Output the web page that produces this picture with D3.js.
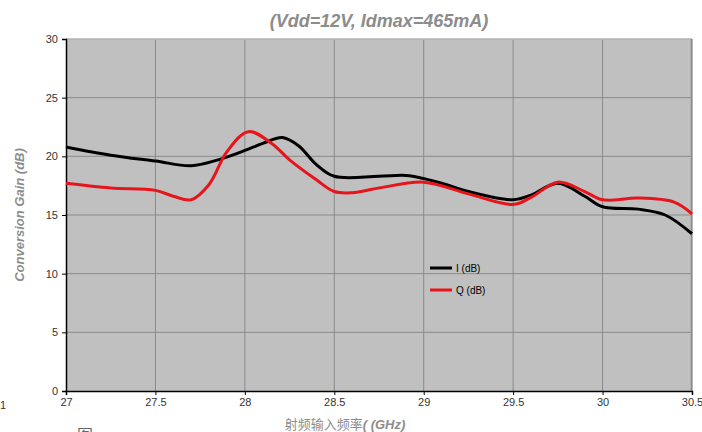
<!DOCTYPE html>
<html>
<head>
<meta charset="utf-8">
<script src="https://cdn.jsdelivr.net/npm/d3@7"></script>
<style>
  html, body { margin: 0; padding: 0; background: #fff; }
  svg { display: block; font-family: "Liberation Sans", Arial, sans-serif; }
</style>
</head>
<body>
<svg id="chart" width="702" height="432"></svg>
<script>
(function () {
  'use strict';

  // frequency (GHz) and gain (dB)
  var freqI = [27.0, 27.25, 27.5, 27.7, 27.85, 28.0, 28.1, 28.21, 28.3, 28.4, 28.5, 28.75, 28.92, 29.1, 29.25, 29.5, 29.6, 29.75, 29.9, 30.0, 30.2, 30.35, 30.5];
  var gainI = [20.8, 20.1, 19.6, 19.2, 19.7, 20.5, 21.1, 21.6, 20.9, 19.3, 18.3, 18.3, 18.35, 17.7, 17.0, 16.3, 16.7, 17.7, 16.6, 15.7, 15.5, 15.0, 13.4];

  var freqQ = [27.0, 27.25, 27.5, 27.6, 27.7, 27.8, 27.9, 28.02, 28.15, 28.25, 28.4, 28.5, 28.6, 28.75, 29.0, 29.25, 29.5, 29.6, 29.75, 29.9, 30.0, 30.2, 30.4, 30.5];
  var gainQ = [17.7, 17.3, 17.1, 16.6, 16.3, 17.6, 20.4, 22.1, 21.1, 19.7, 18.0, 17.0, 16.9, 17.3, 17.8, 16.8, 15.9, 16.5, 17.8, 17.0, 16.3, 16.45, 16.1, 15.1];

  var xTicks = [27, 27.5, 28, 28.5, 29, 29.5, 30, 30.5];
  var yTicks = [0, 5, 10, 15, 20, 25, 30];
  var seriesNames = ['I (dB)', 'Q (dB)'];
  var seriesColors = ['#000000', '#e8141b'];

  var svg = d3.select('#chart');
  var left = 66, right = 692, top = 39, bottom = 391;

  var x = d3.scaleLinear().domain([27, 30.5]).range([left, right]);
  var y = d3.scaleLinear().domain([0, 30]).range([bottom, top]);

  // plot area
  svg.append('rect')
    .attr('x', left).attr('y', top)
    .attr('width', right - left).attr('height', bottom - top)
    .attr('fill', '#c0c0c0');

  // grid
  svg.append('g').selectAll('line.v')
    .data(xTicks.slice(1))
    .enter().append('line')
    .attr('x1', function (d) { return x(d); }).attr('x2', function (d) { return x(d); })
    .attr('y1', top).attr('y2', bottom)
    .attr('stroke', '#8a8a8a').attr('stroke-width', 1);

  svg.append('g').selectAll('line.h')
    .data(yTicks.slice(1))
    .enter().append('line')
    .attr('x1', left).attr('x2', right)
    .attr('y1', function (d) { return y(d); }).attr('y2', function (d) { return y(d); })
    .attr('stroke', '#8a8a8a').attr('stroke-width', 1);

  svg.append('line')
    .attr('x1', left).attr('x2', right).attr('y1', top + 0.5).attr('y2', top + 0.5)
    .attr('stroke', '#b4b4b4');
  svg.append('line')
    .attr('x1', right - 0.5).attr('x2', right - 0.5).attr('y1', top).attr('y2', bottom)
    .attr('stroke', '#8a8a8a').attr('stroke-width', 1.5);

  // axes
  var xAxis = d3.axisBottom(x).tickValues(xTicks).tickSize(4).tickPadding(3)
    .tickFormat(function (d) { return String(d); });
  var yAxis = d3.axisLeft(y).tickValues(yTicks).tickSize(4).tickPadding(4);

  var gx = svg.append('g').attr('transform', 'translate(0,' + bottom + ')').call(xAxis);
  var gy = svg.append('g').attr('transform', 'translate(' + left + ',0)').call(yAxis);

  [gx, gy].forEach(function (g) {
    g.select('.domain').attr('stroke', '#000').attr('stroke-width', 1.5);
    g.selectAll('.tick line').attr('stroke', '#000');
    g.selectAll('.tick text')
      .attr('fill', '#333')
      .attr('font-size', '11px')
      .attr('font-family', '"Liberation Sans Narrow", "Liberation Sans", Arial, sans-serif');
  });

  // series
  var line = d3.line()
    .x(function (d) { return x(d[0]); })
    .y(function (d) { return y(d[1]); })
    .curve(d3.curveCatmullRom.alpha(0.5));

  var dataI = freqI.map(function (f, i) { return [f, gainI[i]]; });
  var dataQ = freqQ.map(function (f, i) { return [f, gainQ[i]]; });

  svg.append('path').datum(dataI)
    .attr('d', line).attr('fill', 'none')
    .attr('stroke', seriesColors[0]).attr('stroke-width', 3);
  svg.append('path').datum(dataQ)
    .attr('d', line).attr('fill', 'none')
    .attr('stroke', seriesColors[1]).attr('stroke-width', 3);

  // legend
  var legend = svg.append('g').attr('transform', 'translate(430,268)');
  seriesNames.forEach(function (name, i) {
    var row = legend.append('g').attr('transform', 'translate(0,' + (i * 22) + ')');
    row.append('line')
      .attr('x1', 0).attr('x2', 22).attr('y1', 0).attr('y2', 0)
      .attr('stroke', seriesColors[i]).attr('stroke-width', 3);
    row.append('text')
      .attr('x', 26).attr('y', 4)
      .attr('font-size', '10px').attr('fill', '#000')
      .text(name);
  });

  // titles
  svg.append('text')
    .attr('x', 379).attr('y', 27)
    .attr('text-anchor', 'middle')
    .attr('font-size', '18px').attr('font-weight', 'bold').attr('font-style', 'italic')
    .attr('fill', '#8c8c8c')
    .text('(Vdd=12V, Idmax=465mA)');

  svg.append('text')
    .attr('transform', 'translate(24,' + ((top + bottom) / 2) + ') rotate(-90)')
    .attr('text-anchor', 'middle')
    .attr('font-size', '13px').attr('font-weight', 'bold').attr('font-style', 'italic')
    .attr('fill', '#8c8c8c')
    .text('Conversion Gain (dB)');

  var xl = svg.append('text')
    .attr('x', 345).attr('y', 429)
    .attr('text-anchor', 'middle')
    .attr('font-size', '13px')
    .attr('fill', '#8c8c8c');
  xl.append('tspan').attr('font-family', '"Noto Sans CJK SC", sans-serif').text('射频输入频率');
  xl.append('tspan').attr('font-weight', 'bold').attr('font-style', 'italic').text('( (GHz)');

  // stray fragments from the source page
  svg.append('text').attr('x', 0).attr('y', 409)
    .attr('font-size', '11px').attr('fill', '#333').text('1');
  svg.append('text').attr('x', 77).attr('y', 441)
    .attr('font-size', '16px').attr('fill', '#666')
    .attr('font-family', '"Noto Sans CJK SC", sans-serif').text('图');
})();
</script>
</body>
</html>
